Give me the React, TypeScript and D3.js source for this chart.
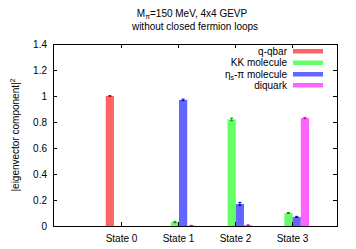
import { useEffect, useRef } from 'react';
import * as d3 from 'd3';

const states = ['State 0', 'State 1', 'State 2', 'State 3'];
const seriesNames = ['q-qbar', 'KK molecule', 'eta-pi molecule', 'diquark'];
const qqbar = [1.0, 0.0, 0.0, 0.0];
const kkMolecule = [0.0, 0.03, 0.82, 0.1];
const etaPiMolecule = [0.0, 0.97, 0.17, 0.07];
const diquark = [0.0, 0.003, 0.006, 0.83];
const errors = [
  [0.004, 0.0, 0.0, 0.0],
  [0.0, 0.005, 0.01, 0.004],
  [0.0, 0.006, 0.012, 0.004],
  [0.0, 0.002, 0.003, 0.005],
];
const yTicks = [0, 0.2, 0.4, 0.6, 0.8, 1, 1.2, 1.4];

const fills = ['#ff6464', '#64ff64', '#6464ff', '#ff64ff'];
const strokes = ['#cc0000', '#009900', '#0000aa', '#cc00cc'];

export default function App() {
  const svgRef = useRef<SVGSVGElement>(null);

  useEffect(() => {
    if (!svgRef.current) return;
    const svg = d3.select(svgRef.current);
    svg.selectAll('*').remove();

    const margin = { top: 44, right: 19, bottom: 23, left: 53 };
    const W = 356, H = 249;
    const font = "'Liberation Sans', Arial, sans-serif";

    const x = d3.scaleLinear().domain([-1.2, 3.8]).range([margin.left, W - margin.right]);
    const y = d3.scaleLinear().domain([0, 1.4]).range([H - margin.bottom, margin.top]);

    const values = [qqbar, kkMolecule, etaPiMolecule, diquark];
    const step = 0.145;
    const bw = 0.145;
    const shift = 0.018;

    // bars
    values.forEach((vals, si) => {
      const g = svg.append('g');
      vals.forEach((v, i) => {
        const cx = i + (si - 1.5) * step + shift;
        const x0 = x(cx - bw / 2);
        const x1 = x(cx + bw / 2);
        if (v > 0) {
          g.append('rect')
            .attr('x', x0)
            .attr('y', y(v))
            .attr('width', x1 - x0)
            .attr('height', y(0) - y(v))
            .attr('fill', fills[si]);
        }
        const e = errors[si][i];
        if (v > 0 && e > 0) {
          const px = x(cx);
          g.append('line')
            .attr('x1', px).attr('x2', px)
            .attr('y1', y(v - e)).attr('y2', y(v + e))
            .attr('stroke', strokes[si]).attr('stroke-width', 1);
          [v - e, v + e].forEach(t => {
            g.append('line')
              .attr('x1', px - 1.5).attr('x2', px + 1.5)
              .attr('y1', y(t)).attr('y2', y(t))
              .attr('stroke', strokes[si]).attr('stroke-width', 1);
          });
        }
      });
    });

    // frame
    const [xl, xr] = x.range();
    const [yb, yt] = y.range();
    svg.append('rect')
      .attr('x', xl + 0.5).attr('y', yt + 0.5)
      .attr('width', xr - xl).attr('height', yb - yt)
      .attr('fill', 'none').attr('stroke', '#000').attr('stroke-width', 1);

    // y ticks (mirrored)
    yTicks.forEach(t => {
      const py = Math.round(y(t)) + 0.5;
      svg.append('line').attr('x1', xl).attr('x2', xl + 4).attr('y1', py).attr('y2', py).attr('stroke', '#000');
      svg.append('line').attr('x1', xr - 4).attr('x2', xr).attr('y1', py).attr('y2', py).attr('stroke', '#000');
      svg.append('text')
        .attr('x', xl - 6).attr('y', py + 3.5)
        .attr('text-anchor', 'end')
        .style('font-family', font).style('font-size', '10px')
        .text(d3.format('~g')(t));
    });

    // x ticks (mirrored)
    states.forEach((s, i) => {
      const px = Math.round(x(i)) + 0.5;
      svg.append('line').attr('x1', px).attr('x2', px).attr('y1', yb).attr('y2', yb - 4).attr('stroke', '#000');
      svg.append('line').attr('x1', px).attr('x2', px).attr('y1', yt).attr('y2', yt + 4).attr('stroke', '#000');
      svg.append('text')
        .attr('x', px).attr('y', yb + 16)
        .attr('text-anchor', 'middle')
        .style('font-family', font).style('font-size', '10px')
        .text(s);
    });

    // y label
    const yl = svg.append('text')
      .attr('transform', `translate(19,${(yt + yb) / 2}) rotate(-90)`)
      .attr('text-anchor', 'middle')
      .style('font-family', font).style('font-size', '10px');
    yl.append('tspan').text('|eigenvector component|');
    yl.append('tspan').attr('dy', -4).style('font-size', '7px').text('2');

    // title
    const cx = (xl + xr) / 2;
    const t1 = svg.append('text')
      .attr('x', cx - 3).attr('y', 17)
      .attr('text-anchor', 'middle')
      .style('font-family', font).style('font-size', '10px');
    t1.append('tspan').text('M');
    t1.append('tspan').attr('dy', 2).style('font-size', '7px').text('π');
    t1.append('tspan').attr('dy', -2).text('=150 MeV, 4x4 GEVP');
    svg.append('text')
      .attr('x', cx).attr('y', 30)
      .attr('text-anchor', 'middle')
      .style('font-family', font).style('font-size', '10px')
      .text('without closed fermion loops');

    // legend
    const lx = 287;
    const rows = [51, 62.5, 74, 85];
    seriesNames.forEach((name, si) => {
      const ry = rows[si];
      const txt = svg.append('text')
        .attr('x', lx).attr('y', ry + 3.5)
        .attr('text-anchor', 'end')
        .style('font-family', font).style('font-size', '10px');
      if (si === 2) {
        txt.append('tspan').text('η');
        txt.append('tspan').attr('dy', 2).style('font-size', '7px').text('s');
        txt.append('tspan').attr('dy', -2).text('-π molecule');
      } else {
        txt.text(name);
      }
      svg.append('rect')
        .attr('x', 293).attr('y', ry - 2)
        .attr('width', 30).attr('height', 4.5)
        .attr('fill', fills[si]);
    });
  }, []);

  return (
    <svg ref={svgRef} width={356} height={249} style={{ position: 'absolute', left: 0, top: 0, background: '#fff' }} />
  );
}
